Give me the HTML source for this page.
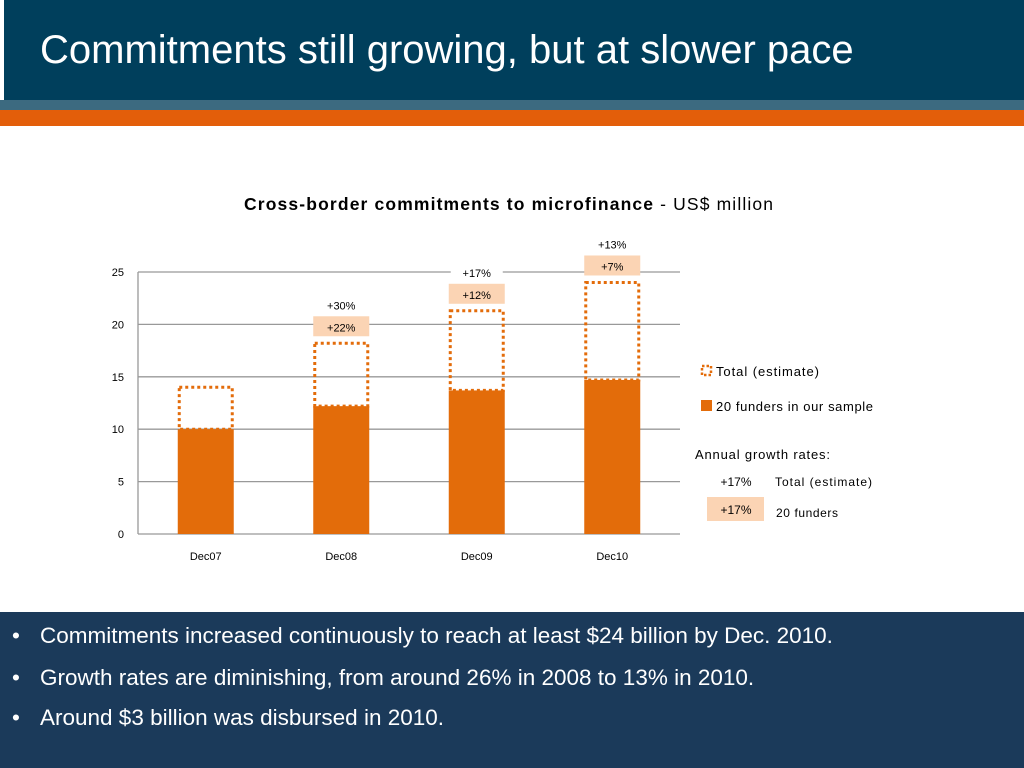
<!DOCTYPE html>
<html><head><meta charset="utf-8"><style>
body{margin:0;width:1024px;height:768px;overflow:hidden;background:#fff;font-family:"Liberation Sans",sans-serif;position:relative}
#hdr{position:absolute;left:4px;top:0;width:1020px;height:100px;background:#003f5c}
#hdr h1{margin:0;position:absolute;left:36px;top:28px;color:#fff;font-weight:normal;font-size:40px;white-space:nowrap}
#band1{position:absolute;left:0;top:100px;width:1024px;height:10px;background:#3c6a80}
#band2{position:absolute;left:0;top:110px;width:1024px;height:16px;background:#e35e0a}
#bottom{position:absolute;left:0;top:612px;width:1024px;height:156px;background:#1b3a5a;color:#fff;font-size:22.5px}
#bottom div{position:absolute;left:12px}
#bottom span{position:absolute;left:28px;white-space:nowrap}
svg{position:absolute;left:0;top:0}
</style></head><body>
<div id="hdr"><h1>Commitments still growing, but at slower pace</h1></div>
<div id="band1"></div>
<div id="band2"></div>
<svg id="chart" width="1024" height="612" font-family="Liberation Sans, sans-serif"></svg>
<div id="bottom">
<div style="top:11px">•<span>Commitments increased continuously to reach at least $24 billion by Dec. 2010.</span></div>
<div style="top:53px">•<span>Growth rates are diminishing, from around 26% in 2008 to 13% in 2010.</span></div>
<div style="top:93px">•<span>Around $3 billion was disbursed in 2010.</span></div>
</div>
<script>
const categories=["Dec07","Dec08","Dec09","Dec10"];
const fundersValues=[10,12.2,13.7,14.7];
const totalValues=[14,18.2,21.3,24];
const totalGrowth=["","+30%","+17%","+13%"];
const fundersGrowth=["","+22%","+12%","+7%"];
const yTicks=[0,5,10,15,20,25];
const NS="http://www.w3.org/2000/svg";
const svg=document.getElementById('chart');
const X0=138,X1=680,Y0=534,Y25=272;
const y=v=>Y0-(v/25)*(Y0-Y25);
const band=(X1-X0)/categories.length;
const xc=i=>X0+band*(i+0.5);
const BW=56;
function mk(t,a,txt){const e=document.createElementNS(NS,t);for(const k in a)e.setAttribute(k,a[k]);if(txt!==undefined)e.textContent=txt;svg.appendChild(e);return e;}
let t=mk('text',{x:244,y:210,'font-size':17.5,fill:'#000',textLength:529,lengthAdjust:'spacing'});


t.innerHTML='<tspan font-weight="bold">Cross-border commitments to microfinance</tspan> - US$ million';
yTicks.forEach(v=>{
  const l=mk('line',{x1:X0,x2:X1,y1:y(v),y2:y(v),stroke:'#999','stroke-width':1.3});
  
  
  const tx=mk('text',{x:124,y:y(v)+4,'text-anchor':'end','font-size':11,fill:'#000'},v);
  
  
});
mk('line',{x1:X0,x2:X0,y1:Y25,y2:Y0,stroke:'#999','stroke-width':1.3});
categories.forEach((c,i)=>{
  const x=xc(i)-BW/2;
  const b=mk('rect',{x:x,y:y(fundersValues[i]),width:BW,height:Y0-y(fundersValues[i]),fill:'#e36c0a'});
  
  
  const o=mk('rect',{x:x+1.5,y:y(totalValues[i]),width:BW-3,height:y(fundersValues[i])-y(totalValues[i]),fill:'none',stroke:'#e36c0a','stroke-width':3,'stroke-dasharray':'3 3'});
  
  
  const lb=mk('text',{x:xc(i),y:Y0+26,'text-anchor':'middle','font-size':11},c);
  
  
  if(fundersGrowth[i]){
    const ty=y(totalValues[i]);
    const r=mk('rect',{x:x,y:ty-27,width:BW,height:20,fill:'#fbd4b4'});
    
    
    const g1=mk('text',{x:xc(i),y:ty-12,'text-anchor':'middle','font-size':11},fundersGrowth[i]);
    
    
    mk('rect',{x:xc(i)-26,y:ty-46,width:52,height:16,fill:'#fff'});
    const g2=mk('text',{x:xc(i),y:ty-34,'text-anchor':'middle','font-size':11},totalGrowth[i]);
    
    
  }
});
// legend
mk('rect',{x:702,y:366,width:9,height:9,fill:'none',stroke:'#e36c0a','stroke-width':2.5,'stroke-dasharray':'2.5 2'});
let e=mk('text',{x:716,y:376,'font-size':13,textLength:103,lengthAdjust:'spacing'},'Total (estimate)');


mk('rect',{x:701,y:400,width:11,height:11,fill:'#e36c0a'});
e=mk('text',{x:716,y:411,'font-size':13,textLength:157,lengthAdjust:'spacing'},'20 funders in our sample');


e=mk('text',{x:695,y:459,'font-size':13,textLength:135,lengthAdjust:'spacing'},'Annual growth rates:');


mk('text',{x:736,y:486,'font-size':12,'text-anchor':'middle'},'+17%');
mk('text',{x:775,y:486,'font-size':12,textLength:97,lengthAdjust:'spacing'},'Total (estimate)');
mk('rect',{x:707,y:497,width:57,height:24,fill:'#fbd4b4'});
mk('text',{x:736,y:514,'font-size':12,'text-anchor':'middle'},'+17%');
mk('text',{x:776,y:517,'font-size':12,textLength:62,lengthAdjust:'spacing'},'20 funders');
</script>
</body></html>
